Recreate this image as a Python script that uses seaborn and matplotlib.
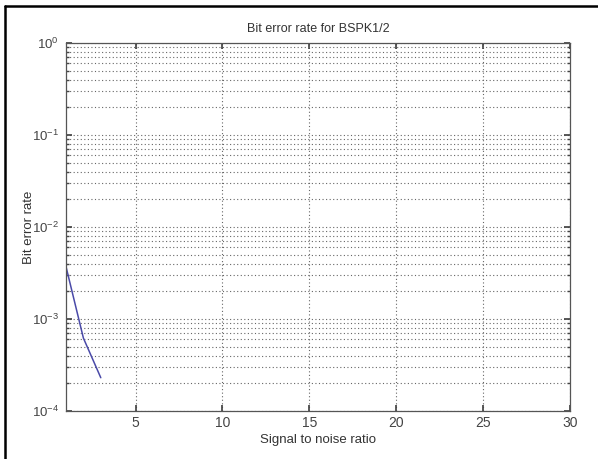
import matplotlib
matplotlib.use("Agg")
import matplotlib.pyplot as plt
import seaborn as sns
import pandas as pd
import numpy as np
from matplotlib.ticker import LogLocator, NullFormatter, FixedLocator
from matplotlib.lines import Line2D

snr = [1, 2, 3]
ber = [3.7e-3, 6.2e-4, 2.3e-4]
x_ticks = [5, 10, 15, 20, 25, 30]
title = "Bit error rate for BSPK1/2"
xlabel = "Signal to noise ratio"
ylabel = "Bit error rate"

sns.set_theme(style="white")
plt.rcParams['font.family'] = ['Liberation Sans', 'DejaVu Sans']
plt.rcParams['mathtext.fontset'] = 'custom'
plt.rcParams['mathtext.rm'] = 'Liberation Sans'

df = pd.DataFrame({"snr": snr, "ber": ber})

fig = plt.figure(figsize=(5.98, 4.59), dpi=100)
ax = fig.add_axes([0.1104, 0.1046, 0.843, 0.8017])

sns.lineplot(data=df, x="snr", y="ber", ax=ax, color="#4a4aa8", linewidth=1.1)
ax.set_yscale("log")
ax.set_xlim(1, 30)
ax.set_ylim(1e-4, 1e0)
ax.xaxis.set_major_locator(FixedLocator(x_ticks))
ax.yaxis.set_major_locator(LogLocator(base=10, numticks=10))
ax.yaxis.set_minor_locator(LogLocator(base=10, subs=np.arange(2, 10), numticks=20))
ax.yaxis.set_minor_formatter(NullFormatter())

ax.grid(True, which="major", axis="both", linestyle=(0, (1, 2.2)), color="#666666", linewidth=0.8)
ax.grid(True, which="minor", axis="y", linestyle=(0, (1, 2.2)), color="#666666", linewidth=0.8)

for s in ax.spines.values():
    s.set_color("#555555")
    s.set_linewidth(0.9)
ax.tick_params(axis="both", which="both", direction="in", colors="#444444",
               top=True, right=True, bottom=True, left=True)
ax.tick_params(axis="x", labelsize=10)
ax.tick_params(axis="y", labelsize=9.5, pad=5)
ax.tick_params(which="major", length=4)
ax.tick_params(which="minor", length=2)

ax.set_title(title, fontsize=9, color="#333333", pad=8)
ax.set_xlabel(xlabel, fontsize=9.5, color="#333333", labelpad=3)
ax.set_ylabel(ylabel, fontsize=9.5, color="#333333")
ax.yaxis.set_label_coords(-0.062, 0.5)

fig.lines.append(Line2D([5/598, 1.0], [1 - 6/459, 1 - 6/459], transform=fig.transFigure,
                        color="black", linewidth=1.8))
fig.lines.append(Line2D([5/598, 5/598], [0.0, 1 - 6/459], transform=fig.transFigure,
                        color="black", linewidth=1.8))

fig.savefig("out.png", dpi=100, facecolor="white")
